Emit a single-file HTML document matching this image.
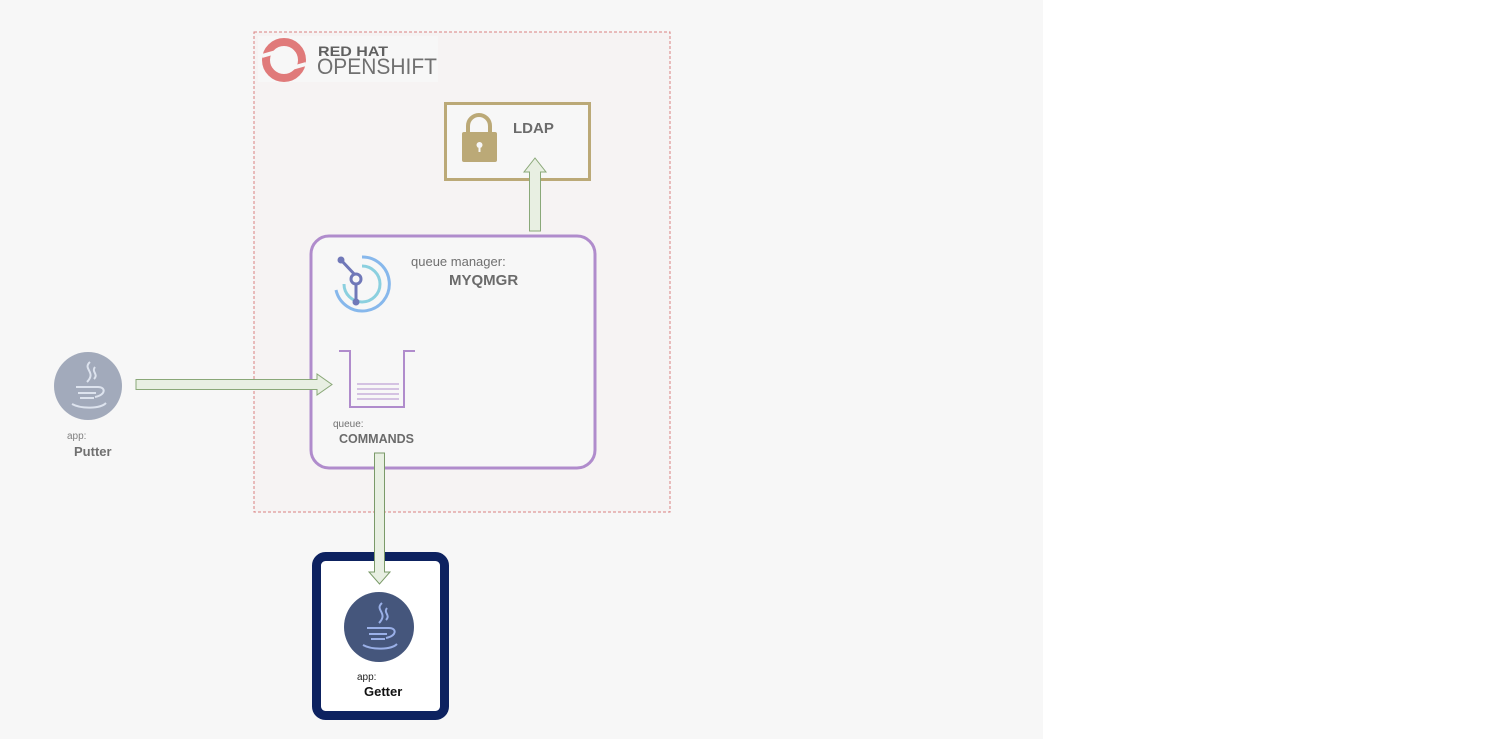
<!DOCTYPE html>
<html><head><style>
html,body{margin:0;padding:0;background:#fff;}
svg{display:block;font-family:"Liberation Sans",sans-serif;}
</style></head><body>
<svg width="1501" height="739" viewBox="0 0 1501 739">
<rect x="0" y="0" width="1043" height="739" fill="#f7f7f7"/>
<rect x="254" y="32" width="416" height="480" fill="#f6f3f3" stroke="#d98080" stroke-dasharray="3,2" stroke-width="1"/>
<rect x="258" y="36" width="180" height="46" fill="#f7f7f7"/>
<circle cx="284" cy="60" r="18" fill="none" stroke="#e07a7a" stroke-width="8"/>
<path d="M262 56 L276 52 M292 68 L306 64" stroke="#f7f7f7" stroke-width="4"/>
<text x="318" y="56" font-size="14" font-weight="bold" fill="#606060" textLength="70" lengthAdjust="spacingAndGlyphs">RED HAT</text>
<text x="317" y="74" font-size="22" fill="#707070" textLength="120" lengthAdjust="spacingAndGlyphs">OPENSHIFT</text>
<rect x="445.5" y="103.5" width="144" height="76" fill="#f7f7f7" stroke="#bba977" stroke-width="3"/>
<path d="M468 132 v-6 a11 11 0 0 1 22 0 v6" fill="none" stroke="#bba977" stroke-width="4"/>
<rect x="462" y="132" width="35" height="30" rx="2" fill="#bba977"/>
<circle cx="479.5" cy="145" r="3" fill="#f7f7f7"/><rect x="478.5" y="146" width="2" height="6" fill="#f7f7f7"/>
<text x="513" y="133" font-size="15" font-weight="bold" fill="#6b6b6b">LDAP</text>
<rect x="311" y="236" width="284" height="232" rx="18" fill="#f7f7f7" stroke="#b08ccc" stroke-width="3"/>
<path d="M344 284 A18 18 0 1 0 362 266" fill="none" stroke="#6fc6d8" stroke-width="3" opacity="0.8"/>
<path d="M336 290 A27 27 0 1 0 362 257" fill="none" stroke="#6aa8e8" stroke-width="3" opacity="0.8"/>
<path d="M341 260 L356 276 V302" stroke="#7078b8" stroke-width="3" fill="none"/>
<circle cx="341" cy="260" r="3.5" fill="#7078b8"/><circle cx="356" cy="279" r="5" fill="#f7f7f7" stroke="#7078b8" stroke-width="3"/><circle cx="356" cy="302" r="3.5" fill="#7078b8"/>
<text x="411" y="266" font-size="13" fill="#707070">queue manager:</text>
<text x="449" y="285" font-size="15" font-weight="bold" fill="#6b6b6b">MYQMGR</text>
<path d="M339 351 H350 V407 H404 V351 H415" fill="none" stroke="#b08ccc" stroke-width="2"/>
<path d="M357 384 H399 M357 389 H399 M357 394 H399 M357 399 H399" stroke="#b08ccc" stroke-width="1"/>
<text x="333" y="427" font-size="10" fill="#707070">queue:</text>
<text x="339" y="443" font-size="13" font-weight="bold" fill="#6b6b6b" textLength="75" lengthAdjust="spacingAndGlyphs">COMMANDS</text>
<path d="M136 379.5 H317 V374 L332 384.5 L317 395 V389.5 H136 Z" fill="#e8efe2" stroke="#8aa878" stroke-width="1"/>
<path d="M529.5 231 V172 H524 L535 158 L546 172 H540.5 V231 Z" fill="#e8efe2" stroke="#8aa878" stroke-width="1"/>
<circle cx="88" cy="386" r="34" fill="#a2aabb"/>
<g stroke="#dde3ee" fill="none" stroke-width="2">
<path d="M90 362 c-8 7 7 10 -3 20 M95 367 c-4 5 4 7 -1 12"/>
<path d="M76 387 h22 M78 393 h18 M80 398 h14 M98 387 c8 0 8 8 -3 10 M72 404 c9 5 28 5 34 -1"/>
</g>
<text x="67" y="439" font-size="10" fill="#808080">app:</text>
<text x="74" y="456" font-size="13" font-weight="bold" fill="#707070">Putter</text>
<rect x="316.5" y="556.5" width="128" height="159" rx="9" fill="#fff" stroke="#0d2260" stroke-width="9"/>
<path d="M374.5 453 V572 H369 L379.5 584 L390 572 H384.5 V453 Z" fill="#e8efe2" stroke="#7a9a68" stroke-width="1"/>
<circle cx="379" cy="627" r="35" fill="#45567c"/>
<g stroke="#9ab0e8" fill="none" stroke-width="2">
<path d="M382 603 c-8 7 7 10 -3 20 M387 608 c-4 5 4 7 -1 12"/>
<path d="M367 628 h22 M369 634 h18 M371 639 h14 M389 628 c8 0 8 8 -3 10 M363 645 c9 5 28 5 34 -1"/>
</g>
<text x="357" y="680" font-size="10" fill="#222">app:</text>
<text x="364" y="696" font-size="13" font-weight="bold" fill="#111">Getter</text>
</svg>
</body></html>
